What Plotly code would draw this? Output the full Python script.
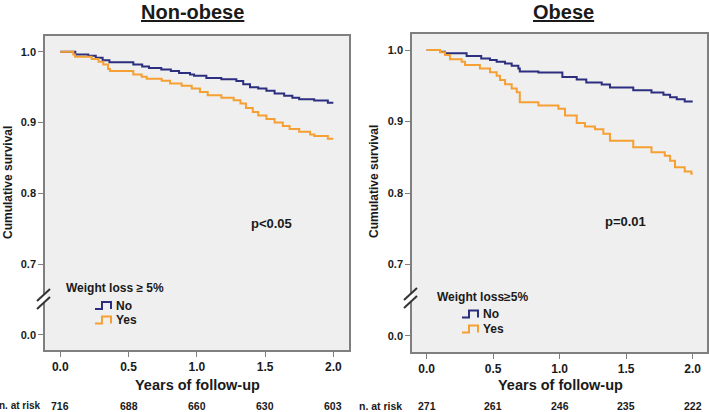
import plotly.graph_objects as go

W, H = 709, 412

# ---------------- data ----------------
ticks_x = [0.0, 0.5, 1.0, 1.5, 2.0]
# displayed y ticks (0.0 shown at broken position 0.6)
tick_pos_y = [0.6, 0.7, 0.8, 0.9, 1.0]
tick_text_y = ["0.0", "0.7", "0.8", "0.9", "1.0"]

# Non-obese
nonob_no_t = [0.11, 0.205, 0.26, 0.31, 0.36, 0.535, 0.60, 0.65, 0.74, 0.81, 0.87, 0.95, 0.98, 1.07,
              1.18, 1.29, 1.34, 1.39, 1.45, 1.51, 1.57, 1.64, 1.70, 1.75, 1.86, 1.96]
nonob_no_s = [0.996, 0.9943, 0.9915, 0.988, 0.985, 0.982, 0.979, 0.977, 0.975, 0.9727, 0.970, 0.968,
              0.966, 0.963, 0.961, 0.9585, 0.954, 0.950, 0.948, 0.945, 0.941, 0.938, 0.935, 0.933,
              0.931, 0.928]
nonob_yes_t = [0.095, 0.108, 0.23, 0.28, 0.315, 0.35, 0.364, 0.535, 0.596, 0.633, 0.743, 0.804, 0.889,
               0.963, 1.023, 1.08, 1.18, 1.27, 1.32, 1.36, 1.41, 1.45, 1.51, 1.57, 1.63, 1.68, 1.75,
               1.83, 1.86, 1.96]
nonob_yes_s = [0.996, 0.993, 0.9897, 0.986, 0.982, 0.9755, 0.9727, 0.968, 0.9646, 0.962, 0.959, 0.955,
               0.952, 0.948, 0.943, 0.9387, 0.935, 0.9316, 0.927, 0.9207, 0.915, 0.910, 0.905, 0.900,
               0.895, 0.891, 0.887, 0.883, 0.881, 0.877]

# Obese
ob_no_t = [0.10, 0.138, 0.30, 0.41, 0.476, 0.526, 0.589, 0.639, 0.689, 0.70, 0.84, 1.02, 1.128, 1.20,
           1.316, 1.378, 1.553, 1.69, 1.78, 1.83, 1.88, 1.94]
ob_no_s = [0.9977, 0.9953, 0.9915, 0.988, 0.986, 0.9836, 0.981, 0.978, 0.974, 0.970, 0.9686, 0.9624,
           0.9587, 0.9545, 0.9516, 0.9474, 0.9437, 0.9404, 0.9376, 0.934, 0.931, 0.928]
ob_yes_t = [0.10, 0.138, 0.175, 0.263, 0.288, 0.40, 0.476, 0.526, 0.551, 0.589, 0.639, 0.677, 0.70,
            0.84, 0.99, 1.04, 1.128, 1.19, 1.265, 1.328, 1.378, 1.553, 1.69, 1.79, 1.83, 1.867, 1.94,
            1.99]
ob_yes_s = [0.9967, 0.993, 0.987, 0.9836, 0.979, 0.974, 0.969, 0.964, 0.958, 0.952, 0.946, 0.941,
            0.927, 0.9225, 0.918, 0.9085, 0.898, 0.893, 0.889, 0.883, 0.873, 0.864, 0.857, 0.852,
            0.845, 0.836, 0.830, 0.827]

at_risk_nonob = [716, 688, 660, 630, 603]
at_risk_ob = [271, 261, 246, 235, 222]

titles = ["Non-obese", "Obese"]
pvals = ["p<0.05", "p=0.01"]
legend_titles = ["Weight loss \u2265 5%", "Weight loss\u22655%"]
groups = ["No", "Yes"]

# ---------------- style ----------------
NAVY = "#2c2f7f"
ORANGE = "#f6a033"
FRAME = "#7f7f7f"
BG = "#efefef"
TXT = "#1a1a1a"
FONT = "Liberation Sans, Arial, sans-serif"


def P(px, py):
    return px / W, 1 - py / H


def steps(t, s, end=2.0):
    x = [0.0] + list(t) + [end]
    y = [1.0] + list(s) + [s[-1]]
    return x, y


fig = go.Figure()
curves = [
    (nonob_no_t, nonob_no_s, NAVY, "x", "y"),
    (nonob_yes_t, nonob_yes_s, ORANGE, "x", "y"),
    (ob_no_t, ob_no_s, NAVY, "x2", "y2"),
    (ob_yes_t, ob_yes_s, ORANGE, "x2", "y2"),
]
for t, s, c, xa, ya in curves:
    x, y = steps(t, s)
    fig.add_trace(go.Scatter(x=x, y=y, mode="lines", line=dict(color=c, width=2, shape="hv"),
                             xaxis=xa, yaxis=ya, showlegend=False, hoverinfo="skip"))

axis_common = dict(showline=True, linecolor=FRAME, linewidth=1.5, mirror=True, showgrid=False,
                   zeroline=False, ticks="outside", ticklen=5, tickcolor=FRAME, tickwidth=1)

# panel geometry (pixels)
panels = [
    dict(x0=45, x1=349, y0=36, y1=350, xr=[-0.112, 2.115], yr=[0.5788, 1.0222]),
    dict(x0=412, x1=707, y0=34, y1=352, xr=[-0.1105, 2.1075], yr=[0.5776, 1.0224]),
]

for i, p in enumerate(panels):
    sfx = "" if i == 0 else "2"
    fig.update_layout(**{
        "xaxis" + sfx: dict(domain=[p["x0"] / W, p["x1"] / W], range=p["xr"], anchor="y" + sfx,
                            tickvals=ticks_x, ticktext=[f"{v:.1f}" for v in ticks_x],
                            tickfont=dict(family=FONT, size=12, color=TXT, weight="bold"),
                            **axis_common),
        "yaxis" + sfx: dict(domain=[1 - p["y1"] / H, 1 - p["y0"] / H], range=p["yr"],
                            anchor="x" + sfx, tickvals=tick_pos_y, ticktext=tick_text_y,
                            tickfont=dict(family=FONT, size=11, color=TXT, weight="bold"),
                            **axis_common),
    })

ann = []
shapes = []

# titles
for cx, txt in zip([192, 563], titles):
    x, _ = P(cx, 0)
    ann.append(dict(x=x, y=1.0, xref="paper", yref="paper", text=f"<u><b>{txt}</b></u>",
                    showarrow=False, font=dict(family=FONT, size=20, color=TXT),
                    xanchor="center", yanchor="top", borderpad=0))

# y-axis titles
for cx, cy in [(0, 183), (366, 182)]:
    x, y = P(cx, cy)
    ann.append(dict(x=x, y=y, xref="paper", yref="paper", text="<b>Cumulative survival</b>",
                    textangle=-90, showarrow=False, font=dict(family=FONT, size=12, color=TXT),
                    xanchor="left", yanchor="middle", borderpad=0))

# x-axis titles
for cx, cy in [(197, 385), (560, 385)]:
    x, y = P(cx, cy)
    ann.append(dict(x=x, y=y, xref="paper", yref="paper", text="<b>Years of follow-up</b>",
                    showarrow=False, font=dict(family=FONT, size=14.5, color=TXT),
                    xanchor="center", yanchor="middle"))

# p-values
for (cx, cy), txt in zip([(271, 223), (625, 221)], pvals):
    x, y = P(cx, cy)
    ann.append(dict(x=x, y=y, xref="paper", yref="paper", text=f"<b>{txt}</b>",
                    showarrow=False, font=dict(family=FONT, size=13, color=TXT),
                    xanchor="center", yanchor="middle"))

# numbers at risk
_, yr = P(0, 405.5)
ann.append(dict(x=P(42, 0)[0], y=yr, xref="paper", yref="paper", text="<b>n. at risk</b>",
                showarrow=False, font=dict(family=FONT, size=10, color=TXT),
                xanchor="right", yanchor="middle", borderpad=0))
ann.append(dict(x=P(358, 0)[0], y=yr, xref="paper", yref="paper", text="<b>n. at risk</b>",
                showarrow=False, font=dict(family=FONT, size=10.5, color=TXT),
                xanchor="left", yanchor="middle", borderpad=0))
for xa, vals in [("x", at_risk_nonob), ("x2", at_risk_ob)]:
    for tv, n in zip(ticks_x, vals):
        ann.append(dict(x=tv, y=yr, xref=xa, yref="paper", text=f"<b>{n}</b>", showarrow=False,
                        font=dict(family=FONT, size=10.5, color=TXT), xanchor="center",
                        yanchor="middle", borderpad=0))

# legends (title + step icons)
legend_geo = [
    dict(tx=114.5, ty=287.5, ix0=95, rows=[305.5, 320]),
    dict(tx=482, ty=296.5, ix0=462, rows=[314, 329]),
]
for g, lt in zip(legend_geo, legend_titles):
    x, y = P(g["tx"], g["ty"])
    ann.append(dict(x=x, y=y, xref="paper", yref="paper", text=f"<b>{lt}</b>", showarrow=False,
                    font=dict(family=FONT, size=12, color=TXT), xanchor="center",
                    yanchor="middle"))
    for ry, lab, col in zip(g["rows"], groups, [NAVY, ORANGE]):
        x0 = g["ix0"]
        pts = [(x0, ry + 3.5), (x0 + 7, ry + 3.5), (x0 + 7, ry - 3.5), (x0 + 16, ry - 3.5),
               (x0 + 16, ry + 3.5)]
        path = "M " + " L ".join(f"{P(a, b)[0]:.5f},{P(a, b)[1]:.5f}" for a, b in pts)
        shapes.append(dict(type="path", path=path, xref="paper", yref="paper",
                           line=dict(color=col, width=2)))
        x, y = P(x0 + 19, ry)
        ann.append(dict(x=x, y=y, xref="paper", yref="paper", text=f"<b>{lab}</b>",
                        showarrow=False, font=dict(family=FONT, size=12, color=TXT),
                        xanchor="left", yanchor="middle"))

# axis break marks
for axx in [45, 412]:
    by = 299 if axx == 45 else 298
    gx0, gy0 = P(axx - 2, by - 4)
    gx1, gy1 = P(axx + 2, by + 4)
    shapes.append(dict(type="rect", xref="paper", yref="paper", x0=gx0, x1=gx1, y0=gy1, y1=gy0,
                       fillcolor="white", line=dict(width=0), layer="above"))
    for dy in (-4, 4):
        a0, b0 = P(axx - 8, by + dy + 6)
        a1, b1 = P(axx + 5, by + dy - 6)
        shapes.append(dict(type="line", xref="paper", yref="paper", x0=a0, y0=b0, x1=a1, y1=b1,
                           line=dict(color="#333333", width=2)))

fig.update_layout(
    width=W, height=H, autosize=False,
    margin=dict(l=0, r=0, t=0, b=0),
    paper_bgcolor="white", plot_bgcolor=BG,
    annotations=ann, shapes=shapes, showlegend=False,
    font=dict(family=FONT, color=TXT),
)

fig.write_html(
    "out.html",
    config={"displayModeBar": False},
    post_script="document.body.style.margin='0';document.body.style.padding='0';"
                "document.documentElement.style.overflow='hidden';document.body.style.overflow='hidden';",
)
